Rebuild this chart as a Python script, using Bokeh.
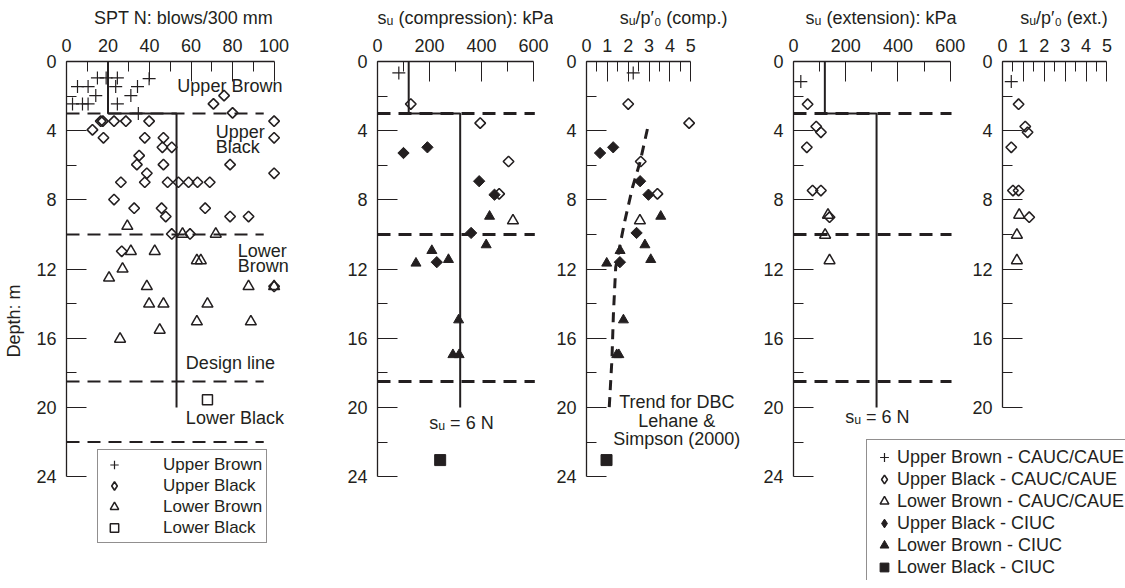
import numpy as np
from bokeh.plotting import figure
from bokeh.layouts import row, column
from bokeh.models import Range1d, FixedTicker, Label, Legend, LegendItem
from bokeh.embed import file_html
from bokeh.resources import INLINE

INK = "#231f20"
FONT = "Liberation Sans"

# ---------------- data ----------------
# layer boundaries (depth, m)
spt_boundaries = [3.0, 10.0, 18.5, 22.0]
su_boundaries = [3.0, 10.0, 18.5]
# design line: SPT N with depth, s_u = 6 N
design_N = [20, 20, 53, 53]
design_depth = [0, 3, 3, 20]
su_per_N = 6

# Panel 1: SPT N
spt_ub_N = [5.3, 10.4, 14.9, 19.1, 24.5, 39.8, 23.7, 34.2, 14.1, 31.0, 2.9, 7.7, 10.4, 24.5, 34.6]
spt_ub_d = [1.45, 1.45, 0.95, 0.95, 0.95, 0.99, 1.45, 1.45, 1.97, 1.97, 2.45, 2.45, 2.45, 2.45, 3.0]
spt_ubk_N = [75.9, 70.8, 80.0, 100, 100, 100, 78.8, 16.5, 17.5, 22.9, 28.6, 39.8, 12.5, 17.8, 37.7,
             46.7, 46.2, 50.7, 35.0, 33.9, 46.7, 38.7, 26.2, 37.7, 48.7, 53.9, 58.8, 63.1, 69.0,
             22.9, 32.6, 45.8, 47.8, 66.8, 78.8, 87.7, 50.7, 59.5, 26.6, 100]
spt_ubk_d = [1.97, 2.45, 2.97, 3.45, 4.41, 6.46, 5.96, 3.45, 3.45, 3.45, 3.45, 3.45, 3.95, 4.41, 4.41,
             4.41, 4.96, 4.96, 5.44, 5.96, 5.96, 6.46, 6.98, 6.98, 6.98, 6.98, 6.98, 6.98, 6.98,
             7.98, 8.48, 8.48, 8.96, 8.48, 8.96, 8.96, 9.97, 9.97, 10.97, 13.0]
spt_lb_N = [29.3, 55.9, 71.9, 31.0, 42.5, 62.8, 64.7, 27.0, 20.5, 38.7, 87.7, 100, 39.8, 46.7, 67.9,
            62.8, 88.8, 44.9, 25.8]
spt_lb_d = [9.52, 9.97, 9.97, 10.97, 10.97, 11.5, 11.5, 11.99, 12.51, 13.0, 13.0, 13.0, 14.01, 14.01,
            14.01, 15.04, 15.04, 15.52, 16.04]
spt_lbk_N = [67.9]
spt_lbk_d = [19.55]

# Panel 2: s_u compression (kPa)
suc_ub = [82]
suc_ub_d = [0.66]
suc_ubk = [128, 395, 504, 468]
suc_ubk_d = [2.46, 3.56, 5.78, 7.65]
suc_lb = [521]
suc_lb_d = [9.2]
suc_ubk_ci = [100, 192, 391, 450, 360, 228]
suc_ubk_ci_d = [5.29, 4.96, 6.92, 7.7, 9.91, 11.6]
suc_lb_ci = [431, 418, 209, 148, 273, 312, 290, 314]
suc_lb_ci_d = [8.95, 10.6, 10.93, 11.66, 11.45, 14.94, 16.95, 16.95]
suc_lbk_ci = [241]
suc_lbk_ci_d = [23.04]

# Panel 3: s_u / p'0 compression
rc_ub = [2.24]
rc_ub_d = [0.66]
rc_ubk = [2.0, 4.92, 2.6, 3.4]
rc_ubk_d = [2.46, 3.56, 5.78, 7.65]
rc_lb = [2.56]
rc_lb_d = [9.2]
rc_ubk_ci = [0.65, 1.28, 2.57, 2.97, 2.4, 1.6]
rc_ubk_ci_d = [5.29, 4.96, 6.92, 7.7, 9.91, 11.6]
rc_lb_ci = [3.56, 2.8, 1.61, 0.97, 3.08, 1.77, 1.45, 1.55]
rc_lb_ci_d = [8.95, 10.6, 10.93, 11.66, 11.45, 14.94, 16.95, 16.95]
rc_lbk_ci = [0.96]
rc_lbk_ci_d = [23.04]
trend_ratio = [2.92, 2.57, 2.2, 1.84, 1.64, 1.4, 1.29, 1.22, 1.09]
trend_depth = [3.9, 5.8, 7.3, 9.2, 10.4, 11.9, 14.6, 17.2, 20.0]

# Panel 4: s_u extension (kPa)
sue_ub = [28]
sue_ub_d = [1.16]
sue_ubk = [54, 87, 105, 51, 73, 105, 138]
sue_ubk_d = [2.47, 3.76, 4.09, 4.96, 7.46, 7.46, 9.0]
sue_lb = [132, 121, 138]
sue_lb_d = [8.87, 10.03, 11.5]

# Panel 5: s_u / p'0 extension
re_ub = [0.42]
re_ub_d = [1.16]
re_ubk = [0.77, 1.09, 1.2, 0.42, 0.5, 0.77, 1.28]
re_ubk_d = [2.47, 3.76, 4.09, 4.96, 7.46, 7.46, 9.0]
re_lb = [0.8, 0.69, 0.69]
re_lb_d = [8.87, 10.03, 11.5]

# ---------------- layout constants ----------------
H = 580
TOP = 61
Y_END = 30.0
NAN = np.array([np.nan])


def make_panel(border_left, frame_w, scale, xbounds, xticks, xminor, xlabel,
               ybounds, yticks, yminor, ylabel=None):
    x_end = frame_w / scale
    p = figure(width=border_left + frame_w, height=H,
               x_range=Range1d(0, x_end), y_range=Range1d(Y_END, 0),
               x_axis_location="above", output_backend="svg", toolbar_location=None,
               min_border_left=border_left, min_border_right=0,
               min_border_top=TOP, min_border_bottom=0)
    p.xgrid.visible = False
    p.ygrid.visible = False
    p.outline_line_color = None
    p.background_fill_color = "white"
    p.border_fill_color = "white"
    xa = p.xaxis[0]
    xa.bounds = xbounds
    xa.ticker = FixedTicker(ticks=xticks, minor_ticks=xminor)
    xa.axis_label = xlabel
    ya = p.yaxis[0]
    ya.bounds = ybounds
    ya.ticker = FixedTicker(ticks=yticks, minor_ticks=yminor)
    ya.axis_label = ylabel
    for a in (xa, ya):
        a.axis_line_color = INK
        a.axis_line_width = 1.3
        a.major_tick_in = 20
        a.major_tick_out = 0
        a.minor_tick_in = 10
        a.minor_tick_out = 0
        a.major_tick_line_color = INK
        a.minor_tick_line_color = INK
        a.major_tick_line_width = 1
        a.minor_tick_line_width = 1
        a.major_label_text_font = FONT
        a.major_label_text_font_size = "18px"
        a.major_label_text_color = INK
        a.axis_label_text_font = FONT
        a.axis_label_text_font_size = "18px"
        a.axis_label_text_font_style = "normal"
        a.axis_label_text_color = INK
    xa.major_label_standoff = 10
    xa.axis_label_standoff = 8
    ya.major_label_standoff = 10
    ya.axis_label_standoff = 9
    return p


def label(p, x, y, text, align="left"):
    p.add_layout(Label(x=x, y=y, text=text, text_align=align, text_baseline="middle",
                       text_font=FONT, text_font_size="18px", text_color=INK))


def open_diamond(p, x, y):
    return p.scatter(x, y, marker="square", angle=np.pi / 4, size=7.5, fill_color=None,
                     line_color=INK, line_width=1.6)


def open_tri(p, x, y):
    return p.scatter(x, y, marker="triangle", size=11, fill_color=None, line_color=INK, line_width=1.5)


def plus(p, x, y):
    return p.scatter(x, y, marker="cross", size=13, line_color=INK, line_width=1.2)


def fill_diamond(p, x, y):
    return p.scatter(x, y, marker="square", angle=np.pi / 4, size=8, fill_color=INK,
                     line_color=INK, line_width=1)


def fill_tri(p, x, y):
    return p.scatter(x, y, marker="triangle", size=10, fill_color=INK, line_color=INK, line_width=1)


def fill_square(p, x, y):
    return p.scatter(x, y, marker="square", size=11, fill_color=INK, line_color=INK, line_width=1)


def style_legend(leg, size, gw, gh, pad, standoff):
    leg.glyph_width = gw
    leg.glyph_height = gh
    leg.label_height = gh
    leg.label_standoff = standoff
    leg.padding = pad
    leg.spacing = 0
    leg.margin = 0
    leg.label_text_font = FONT
    leg.label_text_font_size = size
    leg.label_text_color = INK
    leg.border_line_color = INK
    leg.border_line_width = 1
    leg.background_fill_color = "white"
    leg.background_fill_alpha = 1


dep_ticks = [0, 4, 8, 12, 16, 20, 24]
dep_minor = [2, 6, 10, 14, 18, 22]

# ---------------- Panel 1 ----------------
p1 = make_panel(66, 234, 2.076, (0, 100), [0, 20, 40, 60, 80, 100], [10, 30, 50, 70, 90],
                "SPT N: blows/300 mm", (0, 24), dep_ticks, dep_minor, "Depth: m")
p1.segment(x0=0, x1=95, y0=spt_boundaries, y1=spt_boundaries, line_color=INK, line_width=2,
           line_dash="13 8")
p1.line(design_N, design_depth, line_color=INK, line_width=2)
r_ub = plus(p1, spt_ub_N, spt_ub_d)
open_diamond(p1, spt_ubk_N, spt_ubk_d)
r_lb = open_tri(p1, spt_lb_N, spt_lb_d)
r_lbk = p1.scatter(spt_lbk_N, spt_lbk_d, marker="square", size=10, fill_color=None,
                   line_color=INK, line_width=1.5)
r_ubk_leg = p1.scatter(NAN, NAN, marker="diamond", fill_color=None, line_color=INK, line_width=1.6)
label(p1, 78.7, 1.39, "Upper Brown", "center")
label(p1, 71.9, 4.05, "Upper")
label(p1, 71.9, 4.92, "Black")
label(p1, 82.5, 10.93, "Lower")
label(p1, 82.5, 11.8, "Brown")
label(p1, 57.5, 17.45, "Design line")
label(p1, 57.5, 20.63, "Lower Black")
leg1 = Legend(items=[LegendItem(label="Upper Brown", renderers=[r_ub]),
                     LegendItem(label="Upper Black", renderers=[r_ubk_leg]),
                     LegendItem(label="Lower Brown", renderers=[r_lb]),
                     LegendItem(label="Lower Black", renderers=[r_lbk])],
              location=(31, 37))
style_legend(leg1, "17px", 24, 21, 4, 37)
p1.add_layout(leg1)

# ---------------- Panel 2 ----------------
p2 = make_panel(77, 176, 0.26, (0, 600), [0, 200, 400, 600], [100, 300, 500],
                "s\u1d64 (compression): kPa", (0, 24), dep_ticks, dep_minor)
p2.segment(x0=0, x1=605, y0=su_boundaries, y1=su_boundaries, line_color=INK, line_width=3,
           line_dash="13 8")
p2.line([su_per_N * n for n in design_N], design_depth, line_color=INK, line_width=2)
plus(p2, suc_ub, suc_ub_d)
open_diamond(p2, suc_ubk, suc_ubk_d)
open_tri(p2, suc_lb, suc_lb_d)
fill_diamond(p2, suc_ubk_ci, suc_ubk_ci_d)
fill_tri(p2, suc_lb_ci, suc_lb_ci_d)
fill_square(p2, suc_lbk_ci, suc_lbk_ci_d)
label(p2, 199, 20.9, "s\u1d64 = 6 N")

# ---------------- Panel 3 ----------------
p3 = make_panel(33, 174, 20.86, (0, 5), [0, 1, 2, 3, 4, 5], [0.5, 1.5, 2.5, 3.5, 4.5],
                "s\u1d64/p\u2032\u2080 (comp.)", (0, 24), dep_ticks, dep_minor)
p3.line(trend_ratio, trend_depth, line_color=INK, line_width=3, line_dash="10 7")
plus(p3, rc_ub, rc_ub_d)
open_diamond(p3, rc_ubk, rc_ubk_d)
open_tri(p3, rc_lb, rc_lb_d)
fill_diamond(p3, rc_ubk_ci, rc_ubk_ci_d)
fill_tri(p3, rc_lb_ci, rc_lb_ci_d)
fill_square(p3, rc_lbk_ci, rc_lbk_ci_d)
label(p3, 4.33, 19.7, "Trend for DBC", "center")
label(p3, 4.33, 20.77, "Lehane &", "center")
label(p3, 4.33, 21.82, "Simpson (2000)", "center")

# ---------------- Panel 4 ----------------
p4 = make_panel(33, 175, 0.2612, (0, 600), [0, 200, 400, 600], [100, 300, 500],
                "s\u1d64 (extension): kPa", (0, 24), dep_ticks, dep_minor)
p4.segment(x0=0, x1=605, y0=su_boundaries, y1=su_boundaries, line_color=INK, line_width=3,
           line_dash="13 8")
p4.line([su_per_N * n for n in design_N], design_depth, line_color=INK, line_width=2)
plus(p4, sue_ub, sue_ub_d)
open_diamond(p4, sue_ubk, sue_ubk_d)
open_tri(p4, sue_lb, sue_lb_d)
label(p4, 198, 20.55, "s\u1d64 = 6 N")

# ---------------- Panel 5 ----------------
p5 = make_panel(34, 123, 20.88, (0, 5), [0, 1, 2, 3, 4, 5], [0.5, 1.5, 2.5, 3.5, 4.5],
                "s\u1d64/p\u2032\u2080 (ext.)", (0, 20), [0, 4, 8, 12, 16, 20], [2, 6, 10, 14, 18])
plus(p5, re_ub, re_ub_d)
open_diamond(p5, re_ubk, re_ubk_d)
open_tri(p5, re_lb, re_lb_d)

# ---------------- shared legend (panels 2-5) ----------------
lf = figure(width=259, height=141, x_range=Range1d(0, 1), y_range=Range1d(0, 1),
            x_axis_location=None, y_axis_location=None, output_backend="svg",
            toolbar_location=None, min_border=0, min_border_left=0, min_border_right=0,
            min_border_top=0, min_border_bottom=0)
lf.grid.visible = False
lf.outline_line_color = None
lf.background_fill_alpha = 0
lf.border_fill_alpha = 0
lf.margin = (-141, 0, 0, 866)
d_ub = lf.scatter(NAN, NAN, marker="cross", line_color=INK, line_width=1.2)
d_ubk = lf.scatter(NAN, NAN, marker="diamond", fill_color=None, line_color=INK, line_width=1.6)
d_lb = lf.scatter(NAN, NAN, marker="triangle", fill_color=None, line_color=INK, line_width=1.5)
d_ubk_ci = lf.scatter(NAN, NAN, marker="diamond", fill_color=INK, line_color=INK)
d_lb_ci = lf.scatter(NAN, NAN, marker="triangle", fill_color=INK, line_color=INK)
d_lbk_ci = lf.scatter(NAN, NAN, marker="square", fill_color=INK, line_color=INK)
leg2 = Legend(items=[LegendItem(label="Upper Brown - CAUC/CAUE", renderers=[d_ub]),
                     LegendItem(label="Upper Black - CAUC/CAUE", renderers=[d_ubk]),
                     LegendItem(label="Lower Brown - CAUC/CAUE", renderers=[d_lb]),
                     LegendItem(label="Upper Black - CIUC", renderers=[d_ubk_ci]),
                     LegendItem(label="Lower Brown - CIUC", renderers=[d_lb_ci]),
                     LegendItem(label="Lower Black - CIUC", renderers=[d_lbk_ci])],
              location="top_left")
style_legend(leg2, "18px", 22, 22, 6, 2)
lf.add_layout(leg2)

layout = column(row(p1, p2, p3, p4, p5), lf)
open("out.html", "w").write(file_html(layout, INLINE))
